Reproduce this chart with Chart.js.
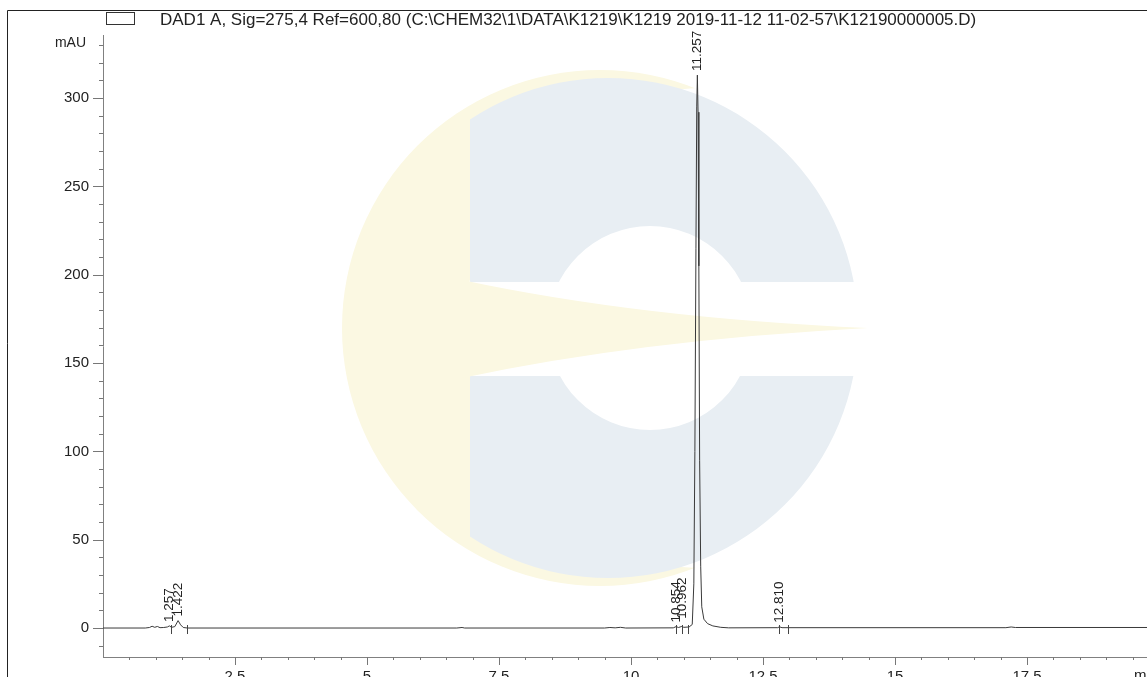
<!DOCTYPE html>
<html>
<head>
<meta charset="utf-8">
<script src="https://cdn.jsdelivr.net/npm/chart.js@4.4.1/dist/chart.umd.min.js"></script>
<style>
html, body { margin: 0; padding: 0; background: #fff; overflow: hidden; }
#wrap { position: absolute; left: 0; top: 0; width: 1180px; height: 677px; }
</style>
</head>
<body>
<div id="wrap"><canvas id="chrom"></canvas></div>
<script>
// retention time (min) and detector signal (mAU)
const times = [0.00, 0.80, 0.88, 0.93, 0.98, 1.03, 1.08, 1.15, 1.22, 1.257, 1.30, 1.36, 1.422, 1.47, 1.52, 1.60,
  6.70, 6.80, 6.85, 9.50, 9.60, 9.70, 9.80, 9.90, 10.80, 10.854, 10.90, 10.962, 11.00, 11.10,
  11.16, 11.19, 11.21, 11.23, 11.245, 11.257, 11.27, 11.285, 11.30, 11.32, 11.34, 11.38, 11.45, 11.55, 11.70, 11.85,
  12.78, 12.81, 12.86, 17.10, 17.20, 17.28, 20.00];
const signal = [0, 0, 0.3, 1.0, 0.4, 0.9, 0.2, 0.3, 0.6, 1.2, 0.4, 0.8, 4.2, 1.8, 0.3, 0,
  0, 0.3, 0, 0, 0.3, 0.1, 0.4, 0, 0.1, 0.8, 0.3, 0.9, 0.4, 0.6,
  2, 25, 100, 215, 295, 313, 292, 205, 95, 35, 12, 5, 2.5, 1.2, 0.4, 0.1,
  0.2, 0.7, 0.2, 0.2, 0.6, 0.3, 0.3];

// annotated peaks
const peakTimes = [1.257, 1.422, 10.854, 10.962, 11.257, 12.810];
const peakLabels = ['1.257', '1.422', '10.854', '10.962', '11.257', '12.810'];
const peakHeights = [1.2, 4.2, 0.8, 3.0, 313, 0.7];

// integration event marks on the baseline
const markTimes = [1.29, 1.59, 10.85, 10.97, 11.08, 12.80, 12.97];

// axis ticks
const xMajor = [2.5, 5, 7.5, 10, 12.5, 15, 17.5];
const yMajor = [0, 50, 100, 150, 200, 250, 300];

const legendText = 'DAD1 A, Sig=275,4 Ref=600,80 (C:\\CHEM32\\1\\DATA\\K1219\\K1219 2019-11-12 11-02-57\\K12190000005.D)';
const FONT = '"Liberation Sans", Arial, sans-serif';

const points = times.map((t, i) => ({ x: t, y: signal[i] }));

const watermark = {
  id: 'watermark',
  beforeDatasetsDraw(chart) {
    const ctx = chart.ctx;
    const yellow = '#fbf8e2', blue = '#e8eef3';
    ctx.save();
    // pale yellow crescent
    ctx.fillStyle = yellow;
    ctx.beginPath();
    ctx.arc(600, 328, 258, 0, Math.PI * 2);
    ctx.fill();
    ctx.fillStyle = '#fff';
    ctx.beginPath();
    ctx.arc(705, 328, 240, 0, Math.PI * 2);
    ctx.fill();
    // blue-grey arcs, cut at the left and across the middle
    ctx.save();
    ctx.beginPath();
    ctx.rect(470, 0, 500, 282);
    ctx.rect(470, 376, 500, 300);
    ctx.clip();
    ctx.fillStyle = blue;
    ctx.beginPath();
    ctx.arc(608, 328, 250, 0, Math.PI * 2);
    ctx.arc(650, 328, 102, 0, Math.PI * 2, true);
    ctx.fill();
    ctx.restore();
    // yellow tip through the gap
    ctx.fillStyle = yellow;
    ctx.beginPath();
    ctx.moveTo(462, 280);
    ctx.quadraticCurveTo(640, 318, 868, 328);
    ctx.quadraticCurveTo(640, 340, 462, 378);
    ctx.closePath();
    ctx.fill();
    ctx.restore();
  }
};

const decorations = {
  id: 'decorations',
  afterDraw(chart) {
    const ctx = chart.ctx;
    const xs = chart.scales.x, ys = chart.scales.y;
    const area = chart.chartArea;
    ctx.save();

    // outer frame
    ctx.strokeStyle = '#222';
    ctx.lineWidth = 1;
    ctx.beginPath();
    ctx.moveTo(7.5, 677);
    ctx.lineTo(7.5, 10.5);
    ctx.lineTo(1147, 10.5);
    ctx.stroke();

    // legend
    ctx.strokeStyle = '#333';
    ctx.strokeRect(106.5, 12.5, 28, 12);
    ctx.fillStyle = '#222';
    ctx.font = '17px ' + FONT;
    ctx.textAlign = 'left';
    ctx.textBaseline = 'middle';
    ctx.fillText(legendText, 160, 20);

    // axis units
    ctx.font = '14px ' + FONT;
    ctx.textAlign = 'right';
    ctx.fillText('mAU', 86, 43);
    ctx.textAlign = 'left';
    ctx.textBaseline = 'top';
    ctx.font = '15px ' + FONT;
    ctx.fillText('min', 1134, area.bottom + 11);

    // y ticks (minor every 10, major every 50)
    ctx.strokeStyle = '#777';
    ctx.beginPath();
    for (let v = -10; v <= 330; v += 10) {
      const py = Math.round(ys.getPixelForValue(v)) + 0.5;
      const len = v % 50 === 0 ? 10 : 4;
      ctx.moveTo(area.left - len, py);
      ctx.lineTo(area.left, py);
    }
    // x ticks (minor every 0.5, major every 2.5)
    for (let k = 1; k <= 40; k++) {
      const v = k * 0.5;
      const px = Math.round(xs.getPixelForValue(v)) + 0.5;
      const len = k % 5 === 0 ? 8 : 3;
      ctx.moveTo(px, area.bottom);
      ctx.lineTo(px, area.bottom + len);
    }
    ctx.stroke();

    // baseline event marks
    ctx.strokeStyle = '#444';
    ctx.beginPath();
    const y0 = ys.getPixelForValue(0);
    markTimes.forEach(t => {
      const px = Math.round(xs.getPixelForValue(t)) + 0.5;
      ctx.moveTo(px, y0 - 3);
      ctx.lineTo(px, y0 + 6);
    });
    ctx.stroke();

    // peak labels, rotated
    ctx.fillStyle = '#222';
    ctx.font = '13.5px ' + FONT;
    ctx.textAlign = 'left';
    ctx.textBaseline = 'middle';
    peakTimes.forEach((t, i) => {
      const px = xs.getPixelForValue(t);
      const py = ys.getPixelForValue(peakHeights[i]) - 4;
      ctx.save();
      ctx.translate(px, py);
      ctx.rotate(-Math.PI / 2);
      ctx.fillText(peakLabels[i], 0, 0);
      ctx.restore();
    });
    ctx.restore();
  }
};

new Chart(document.getElementById('chrom'), {
  type: 'line',
  data: {
    datasets: [{
      data: points,
      borderColor: '#3a3a3a',
      borderWidth: 1,
      pointRadius: 0,
      tension: 0,
      fill: false
    }]
  },
  options: {
    responsive: true,
    maintainAspectRatio: false,
    animation: false,
    events: [],
    layout: { padding: { left: 0, top: 35, right: 21, bottom: 0 } },
    plugins: { legend: { display: false }, tooltip: { enabled: false } },
    scales: {
      x: {
        type: 'linear',
        min: 0,
        max: 20,
        afterBuildTicks: s => { s.ticks = xMajor.map(v => ({ value: v })); },
        afterFit: s => { s.height = 20; s.paddingLeft = 0; s.paddingRight = 0; },
        grid: { display: false, drawTicks: false },
        border: { display: true, color: '#808080', width: 1 },
        ticks: { color: '#222', padding: 11, maxRotation: 0, autoSkip: false, font: { family: FONT, size: 15 } }
      },
      y: {
        type: 'linear',
        min: -16.4,
        max: 335.7,
        afterBuildTicks: s => { s.ticks = yMajor.map(v => ({ value: v })); },
        afterFit: s => { s.width = 103; s.paddingTop = 0; s.paddingBottom = 0; },
        grid: { display: false, drawTicks: false },
        border: { display: true, color: '#808080', width: 1 },
        ticks: { color: '#222', padding: 14, autoSkip: false, font: { family: FONT, size: 15 } }
      }
    }
  },
  plugins: [watermark, decorations]
});
</script>
</body>
</html>
